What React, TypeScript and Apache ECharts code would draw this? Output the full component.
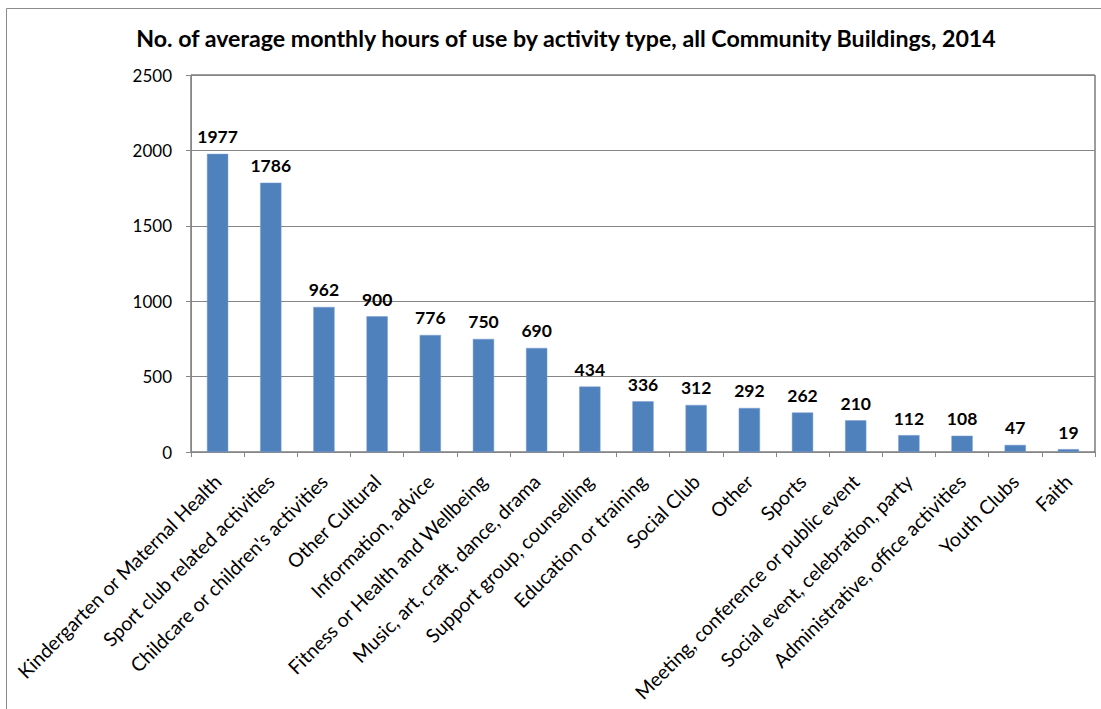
import React, { useEffect, useRef } from "react";
import * as echarts from "echarts";

const categories = [
  "Kindergarten or Maternal Health",
  "Sport club related activities",
  "Childcare or children's activities",
  "Other Cultural",
  "Information, advice",
  "Fitness or Health and Wellbeing",
  "Music, art, craft, dance, drama",
  "Support group, counselling",
  "Education or training",
  "Social Club",
  "Other",
  "Sports",
  "Meeting, conference or public event",
  "Social event, celebration, party",
  "Administrative, office activities",
  "Youth Clubs",
  "Faith",
];
const hours = [1977, 1786, 962, 900, 776, 750, 690, 434, 336, 312, 292, 262, 210, 112, 108, 47, 19];
const yTicks = { min: 0, max: 2500, interval: 500 };
const title = "No. of average monthly hours of use by activity type, all Community Buildings, 2014";

const FONT = "Lato, 'Open Sans', sans-serif";

export default function App() {
  const ref = useRef<HTMLDivElement>(null);
  useEffect(() => {
    if (!ref.current) return;
    const chart = echarts.init(ref.current, undefined, { renderer: "svg" });
    chart.setOption({
      animation: false,
      backgroundColor: "#ffffff",
      title: {
        text: title,
        left: 561,
        textAlign: "center",
        top: 21,
        textStyle: { fontFamily: FONT, fontWeight: "bold", fontSize: 23.2, color: "#000" },
      },
      graphic: [
        {
          type: "rect",
          shape: { x: 6.5, y: 8.5, width: 1100, height: 720 },
          style: { fill: "none", stroke: "#8c8c8c", lineWidth: 1 },
          z: -1,
        },
      ],
      grid: {
        left: 191,
        top: 75,
        right: 6,
        bottom: 257,
        outerBoundsMode: "none",
        containLabel: false,
        show: true,
        borderColor: "#3a3a3a",
        borderWidth: 1,
        backgroundColor: "transparent",
      },
      xAxis: {
        type: "category",
        data: categories,
        axisLine: { show: true, lineStyle: { color: "#868686", width: 1 } },
        axisTick: { show: true, alignWithLabel: false, length: 5, lineStyle: { color: "#868686" } },
        axisLabel: {
          interval: 0,
          rotate: 45,
          margin: 26,
          fontFamily: FONT,
          fontSize: 19.5,
          color: "#000",
        },
      },
      yAxis: {
        type: "value",
        min: yTicks.min,
        max: yTicks.max,
        interval: yTicks.interval,
        axisLine: { show: true, lineStyle: { color: "#868686", width: 1 } },
        axisTick: { show: true, length: 5, lineStyle: { color: "#868686" } },
        splitLine: { show: true, lineStyle: { color: "#868686", width: 1 } },
        axisLabel: {
          fontFamily: FONT,
          fontSize: 17,
          color: "#000",
          margin: 19,
          formatter: (v: number) => String(v),
        },
      },
      series: [
        {
          type: "bar",
          data: hours,
          barWidth: "40%",
          itemStyle: { color: "#4F81BD", borderColor: "#7a9fd0", borderWidth: 0.5 },
          label: {
            show: true,
            position: "top",
            distance: 8,
            fontFamily: FONT,
            fontWeight: "bold",
            fontSize: 17.5,
            color: "#000",
          },
        },
      ],
    });
    return () => chart.dispose();
  }, []);
  return (
    <div
      ref={ref}
      style={{ position: "absolute", left: 0, top: 0, width: 1101, height: 709 }}
    />
  );
}
